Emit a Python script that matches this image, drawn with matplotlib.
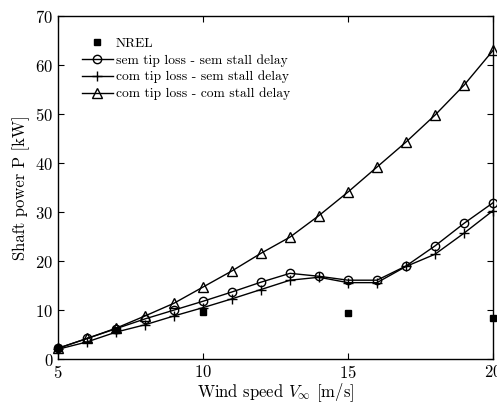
import numpy as np
import matplotlib
matplotlib.use('Agg')
import matplotlib.pyplot as plt

###  Data

v = [5, 6, 7, 8, 9, 10, 11, 12, 13, 14, 15, 16, 17, 18, 19, 20]

P_sem_sem = [2.2, 4.2, 6.2, 8.2, 10.0, 11.8, 13.7, 15.7, 17.5, 16.9, 16.1, 16.1, 19.0, 23.1, 27.7, 31.9]
P_com_sem = [2.0, 3.5, 5.5, 7.0, 8.8, 10.5, 12.3, 14.2, 16.1, 16.7, 15.6, 15.6, 18.9, 21.4, 25.7, 30.3]
P_com_com = [2.2, 4.2, 6.3, 8.8, 11.4, 14.7, 18.0, 21.6, 24.9, 29.3, 34.1, 39.2, 44.3, 49.8, 55.9, 63.0]

v_nrel = [5, 7, 10, 15, 20]
P_nrel = [2.2, 6.0, 9.6, 9.4, 8.4]

###  Style

plt.rcParams['font.family'] = 'serif'
plt.rcParams['font.serif'] = ['cmr10']
plt.rcParams['mathtext.fontset'] = 'cm'
plt.rcParams['axes.formatter.use_mathtext'] = True

fig = plt.figure(figsize=(4.97, 4.03), dpi=100)
ax = fig.add_axes([0.1167, 0.109, 0.8753, 0.851])

ax.plot(v_nrel, P_nrel, 's', color='k', markersize=5, label='NREL', clip_on=False, zorder=5)
ax.plot(v, P_sem_sem, '-o', color='k', lw=1, markersize=6, mfc='none', label='sem tip loss - sem stall delay', clip_on=False)
ax.plot(v, P_com_sem, '-+', color='k', lw=1, markersize=7, label='com tip loss - sem stall delay', clip_on=False)
ax.plot(v, P_com_com, '-^', color='k', lw=1, markersize=6.5, mfc='none', label='com tip loss - com stall delay', clip_on=False)

ax.set_xlim(5, 20)
ax.set_ylim(0, 70)
ax.set_xticks([5, 10, 15, 20])
ax.set_yticks(np.arange(0, 71, 10))
ax.tick_params(direction='in', top=True, right=True, labelsize=12, length=4.5)
for s in ax.spines.values():
    s.set_linewidth(1)

ax.set_xlabel(r'Wind speed $V_\infty$ [m/s]', fontsize=12, labelpad=0)
ax.set_ylabel('Shaft power P [kW]', fontsize=12, labelpad=4)

ax.legend(loc='upper left', bbox_to_anchor=(0.03, 0.97), frameon=False, fontsize=9.7,
          handlelength=2.3, handletextpad=0.2, labelspacing=0.32, borderpad=0.3)

plt.savefig('out.png', dpi=100)
plt.close()
